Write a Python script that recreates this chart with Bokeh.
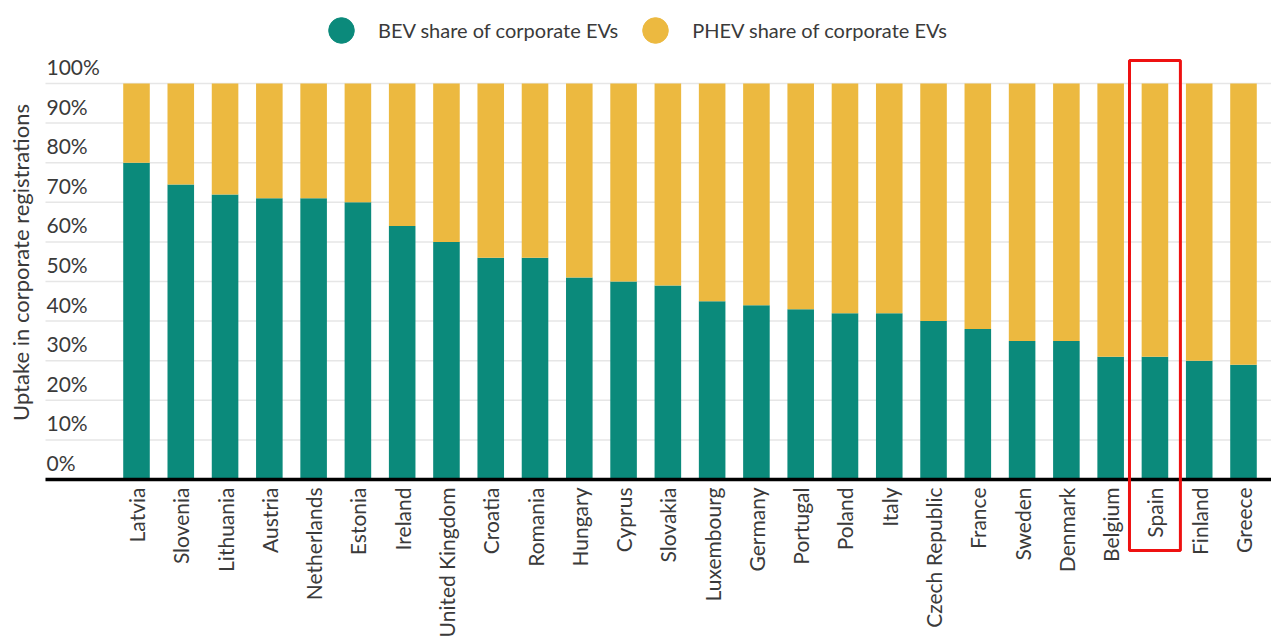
import math
from bokeh.plotting import figure
from bokeh.models import (ColumnDataSource, Range1d, Legend, LegendItem)
from bokeh.core.properties import value
from bokeh.embed import file_html
from bokeh.resources import INLINE

# ---- data ----
countries = ["Latvia", "Slovenia", "Lithuania", "Austria", "Netherlands", "Estonia",
             "Ireland", "United Kingdom", "Croatia", "Romania", "Hungary", "Cyprus",
             "Slovakia", "Luxembourg", "Germany", "Portugal", "Poland", "Italy",
             "Czech Republic", "France", "Sweden", "Denmark", "Belgium", "Spain",
             "Finland", "Greece"]
bev_share = [80, 74.5, 72, 71, 71, 70, 64, 60, 56, 56, 51, 50, 49, 45, 44, 43, 42, 42,
             40, 38, 35, 35, 31, 31, 30, 29]
phev_share = [100 - b for b in bev_share]
y_ticks = [0, 10, 20, 30, 40, 50, 60, 70, 80, 90, 100]
y_tick_labels = ["0%", "10%", "20%", "30%", "40%", "50%", "60%", "70%", "80%", "90%", "100%"]
series_names = ["BEV share of corporate EVs", "PHEV share of corporate EVs"]
y_title = "Uptake in corporate registrations"
highlight = "Spain"

colors = ["#0B8A7B", "#ECB940"]
FONT = "Lato"
TEXT = "#3a3a3a"

W, H = 1271, 642
# layout (pixels): category 0 centre at x=136, 44.28 px per category,
# value 0 at y=479, 3.96 px per percentage point
px_x, x0_px = 44.28, 136.0
px_y, y0_px = 3.96, 479.0
x_start = -x0_px / px_x
x_end = (W - x0_px) / px_x
y_end = y0_px / px_y
y_start = -(H - y0_px) / px_y
plot_left = (45 - x0_px) / px_x   # where gridlines / baseline begin

idx = list(range(len(countries)))
source = ColumnDataSource(dict(x=idx, bev=bev_share, phev=phev_share, country=countries,
                               zero=[0] * len(idx)))

p = figure(width=W, height=H, output_backend="svg", toolbar_location=None,
           x_range=Range1d(x_start, x_end), y_range=Range1d(y_start, y_end),
           min_border=0)
p.outline_line_color = None
p.axis.visible = False
p.grid.visible = False
p.background_fill_color = "white"
p.border_fill_color = "white"

# gridlines
gsrc = ColumnDataSource(dict(y=y_ticks, t=y_tick_labels,
                             x0=[plot_left] * len(y_ticks), x1=[x_end] * len(y_ticks)))
p.segment(x0="x0", y0="y", x1="x1", y1="y", source=gsrc,
          line_color="#e6e6e6", line_width=1.5)

# bars
p.vbar_stack(["bev", "phev"], x="x", width=0.6, color=colors,
             line_color=None, source=source)

# baseline
p.segment(x0=plot_left, y0=0, x1=x_end, y1=0, line_color="black", line_width=3.5)

# y tick labels (above each gridline)
p.text(x="x0", y="y", text="t", source=gsrc, x_offset=1, y_offset=-17,
       text_baseline="middle", text_align="left",
       text_font=value(FONT), text_font_size="21px", text_color=TEXT)

# y title
p.text(x=[(20 - x0_px) / px_x], y=[(y0_px - 262) / px_y], text=[y_title],
       angle=math.pi / 2, text_align="center", text_baseline="middle",
       text_font=value(FONT), text_font_size="22px", text_color=TEXT)

# category labels
p.text(x="x", y="zero", text="country", source=source, y_offset=8,
       angle=math.pi / 2, text_align="right", text_baseline="middle",
       text_font=value(FONT), text_font_size="21px", text_color=TEXT)

# highlight box around Spain
hi = countries.index(highlight)
p.rect(x=[hi], y=[(y0_px - (60 + 550) / 2) / px_y], width=1.15,
       height=(550 - 60) / px_y, fill_alpha=0, line_color="#ee1111", line_width=3)

# legend (marker renderers hold no visible point)
nan = float("nan")
m1 = p.scatter(x=[nan], y=[nan], marker="circle", color=colors[0])
m2 = p.scatter(x=[nan], y=[nan], marker="circle", color=colors[1])
legend = Legend(items=[LegendItem(label=series_names[0], renderers=[m1]),
                       LegendItem(label=series_names[1], renderers=[m2])],
                orientation="horizontal", location=(309, H - 30 - 32),
                glyph_width=64, glyph_height=64, label_standoff=5, spacing=5,
                padding=0, margin=0, border_line_color=None,
                background_fill_alpha=0,
                label_text_font=FONT, label_text_font_size="20px",
                label_text_color=TEXT)
p.add_layout(legend)

open("out.html", "w").write(file_html(p, INLINE))
